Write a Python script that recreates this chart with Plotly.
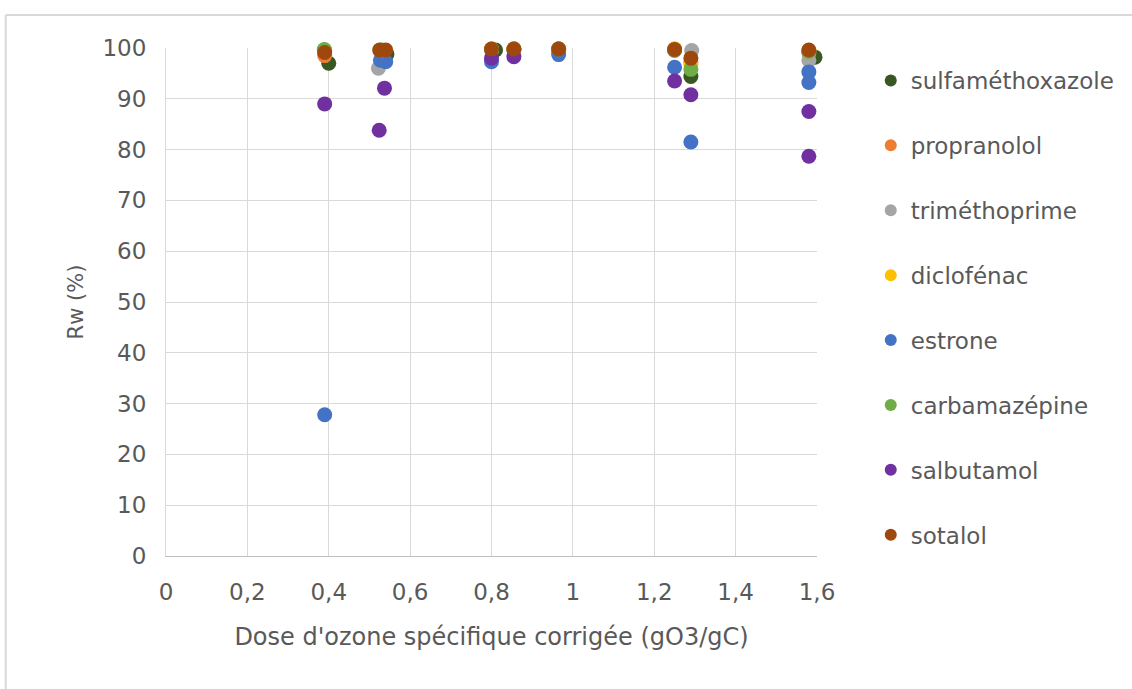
import plotly.graph_objects as go

# ---- data ----
names = ["sulfaméthoxazole", "propranolol", "triméthoprime", "diclofénac",
         "estrone", "carbamazépine", "salbutamol", "sotalol"]
colors = ["#385723", "#ED7D31", "#A5A5A5", "#FFC000",
          "#4472C4", "#70AD47", "#7030A0", "#9E480E"]

sulfa_x = [0.40, 0.543, 0.81, 0.855, 0.965, 1.25, 1.29, 1.595]
sulfa_y = [97.0, 98.8, 99.6, 99.8, 99.8, 99.6, 94.4, 98.2]
propra_x = [0.39, 0.53, 0.80, 0.855, 0.965, 1.25, 1.29, 1.58]
propra_y = [98.5, 99.2, 99.8, 99.8, 99.8, 99.8, 97.2, 99.0]
trimeth_x = [0.39, 0.522, 0.80, 0.855, 0.965, 1.25, 1.292, 1.58]
trimeth_y = [99.5, 96.0, 99.6, 99.7, 99.8, 99.5, 99.5, 97.6]
diclo_x = [0.39, 0.53, 0.80, 0.855, 0.965, 1.25, 1.29, 1.58]
diclo_y = [99.6, 99.5, 99.8, 99.8, 99.8, 99.8, 96.8, 99.5]
estrone_x = [0.39, 0.527, 0.54, 0.80, 0.965, 1.25, 1.29, 1.58, 1.58]
estrone_y = [27.8, 97.6, 97.3, 97.3, 98.7, 96.2, 81.5, 95.3, 93.2]
carba_x = [0.389, 0.53, 0.80, 0.855, 0.965, 1.25, 1.29, 1.58]
carba_y = [99.7, 99.6, 99.7, 99.7, 99.8, 99.6, 95.8, 99.3]
salbu_x = [0.39, 0.524, 0.537, 0.80, 0.855, 1.25, 1.29, 1.58, 1.58]
salbu_y = [89.0, 83.8, 92.1, 98.0, 98.3, 93.5, 90.8, 87.5, 78.7]
sotalol_x = [0.39, 0.525, 0.54, 0.80, 0.855, 0.965, 1.25, 1.29, 1.58]
sotalol_y = [99.1, 99.6, 99.6, 99.8, 99.8, 99.8, 99.7, 98.0, 99.6]

xs = [sulfa_x, propra_x, trimeth_x, diclo_x, estrone_x, carba_x, salbu_x, sotalol_x]
ys = [sulfa_y, propra_y, trimeth_y, diclo_y, estrone_y, carba_y, salbu_y, sotalol_y]

x_ticks = [0, 0.2, 0.4, 0.6, 0.8, 1.0, 1.2, 1.4, 1.6]
x_ticklabels = ["0", "0,2", "0,4", "0,6", "0,8", "1", "1,2", "1,4", "1,6"]
y_ticks = [0, 10, 20, 30, 40, 50, 60, 70, 80, 90, 100]

FONT = "DejaVu Sans"
GRAY = "#595959"

fig = go.Figure()
for n, c, x, y in zip(names, colors, xs, ys):
    fig.add_trace(go.Scatter(x=x, y=y, mode="markers", name=n, legendgroup=n,
                             cliponaxis=False,
                             marker=dict(color=c, size=15, line=dict(width=0))))

W, H = 1132, 689
L, R, T, B = 166, 820, 48, 556
pw, ph = R - L, B - T

def px_x(p):
    return (p - L) / pw

def px_y(p):
    return (B - p) / ph

fig.update_layout(
    width=W, height=H,
    margin=dict(l=L, r=W - R, t=T, b=H - B, pad=0),
    paper_bgcolor="white", plot_bgcolor="white",
    font=dict(family=FONT, size=23, color=GRAY),
    showlegend=True,
    legend=dict(x=px_x(874), y=px_y(59), xanchor="left", yanchor="top",
                font=dict(family=FONT, size=23, color=GRAY),
                tracegroupgap=32, itemsizing="constant",
                bgcolor="rgba(0,0,0,0)"),
    xaxis=dict(range=[0, 1.6], tickvals=x_ticks, ticktext=x_ticklabels,
               showgrid=True, gridcolor="#D9D9D9", gridwidth=1,
               showline=True, linecolor="#BFBFBF", linewidth=1,
               zeroline=False, ticks="", ticklabelstandoff=15,
               tickfont=dict(family=FONT, size=23, color=GRAY),
               title=dict(text="Dose d'ozone spécifique corrigée (gO3/gC)",
                          font=dict(family=FONT, size=24, color=GRAY), standoff=24)),
    yaxis=dict(range=[0, 100], tickvals=y_ticks,
               showgrid=True, gridcolor="#D9D9D9", gridwidth=1,
               showline=True, linecolor="#D9D9D9", linewidth=1,
               zeroline=False, ticks="", ticklabelstandoff=14,
               tickfont=dict(family=FONT, size=23, color=GRAY),
               title=dict(text="Rw (%)",
                          font=dict(family=FONT, size=21, color=GRAY), standoff=13)),
    shapes=[
        dict(type="line", xref="paper", yref="paper",
             x0=px_x(5), x1=px_x(1140), y0=px_y(15), y1=px_y(15),
             line=dict(color="#D9D9D9", width=2)),
        dict(type="line", xref="paper", yref="paper",
             x0=px_x(5), x1=px_x(5), y0=px_y(15), y1=px_y(700),
             line=dict(color="#D9D9D9", width=2)),
    ],
)

fig.write_html("out.html", config={"displayModeBar": False},
               post_script="document.body.style.margin='0';")
